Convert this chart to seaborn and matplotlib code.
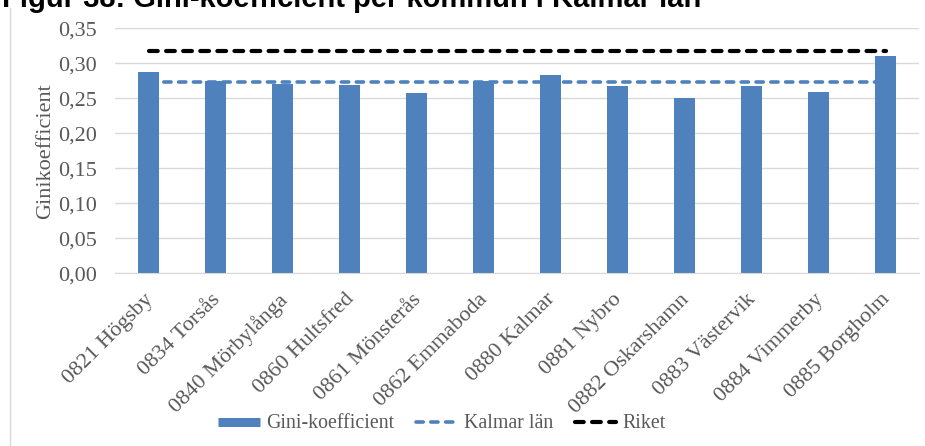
import numpy as np
import matplotlib
matplotlib.use("Agg")
import matplotlib.pyplot as plt
import matplotlib.transforms as mtransforms
import seaborn as sns
from matplotlib.lines import Line2D

# Data
kommuner = ["0821 Högsby", "0834 Torsås", "0840 Mörbylånga", "0860 Hultsfred",
            "0861 Mönsterås", "0862 Emmaboda", "0880 Kalmar", "0881 Nybro",
            "0882 Oskarshamn", "0883 Västervik", "0884 Vimmerby", "0885 Borgholm"]
gini = [0.288, 0.275, 0.270, 0.269, 0.258, 0.275, 0.283, 0.268, 0.250, 0.267, 0.259, 0.310]
kalmar_lan = 0.274
riket = 0.317
y_ticks = [0.00, 0.05, 0.10, 0.15, 0.20, 0.25, 0.30, 0.35]
y_ticklabels = ["0,00", "0,05", "0,10", "0,15", "0,20", "0,25", "0,30", "0,35"]

sns.set_style("white")
plt.rcParams["font.family"] = ["Liberation Serif", "DejaVu Serif"]

blue = "#4F81BD"
grey_txt = "#595959"
grid_col = "#D9D9D9"

fig = plt.figure(figsize=(9.25, 4.46), dpi=100)
ax = fig.add_axes([115 / 925, 1 - 273.3 / 446, 804 / 925, 245 / 446])

sns.barplot(x=kommuner, y=gini, color=blue, width=0.3, saturation=1,
            edgecolor="none", ax=ax)

pos = np.arange(len(kommuner))
ax.plot(pos, np.full(len(kommuner), kalmar_lan), color=blue, lw=2.6,
        dashes=(2.0, 2.1), dash_capstyle="round")
ax.plot(pos, np.full(len(kommuner), riket), color="black", lw=3,
        dashes=(2.1, 2.0), dash_capstyle="round")

ax.set_ylim(0, 0.35)
ax.set_xlim(-0.5, len(kommuner) - 0.5)
ax.set_yticks(y_ticks)
ax.set_yticklabels(y_ticklabels)
ax.yaxis.grid(True, color=grid_col, lw=1)
ax.set_axisbelow(True)
for s in ["top", "right", "left"]:
    ax.spines[s].set_visible(False)
ax.spines["bottom"].set_color(grid_col)
ax.tick_params(axis="y", length=0, pad=13, labelsize=16, labelcolor=grey_txt)
ax.tick_params(axis="x", length=0, pad=12, labelsize=16, labelcolor=grey_txt)
shift = mtransforms.ScaledTranslation(-5 / 100, 0, fig.dpi_scale_trans)
for lbl in ax.get_xticklabels():
    lbl.set_rotation(45)
    lbl.set_ha("right")
    lbl.set_rotation_mode("anchor")
    lbl.set_transform(lbl.get_transform() + shift)
ax.set_ylabel("Ginikoefficient", fontsize=16, color=grey_txt, labelpad=2)

# legend at the bottom
handles = [
    Line2D([], [], color=blue, lw=6.5, solid_capstyle="butt"),
    Line2D([], [], color=blue, lw=2.6, dashes=(2.0, 2.1), dash_capstyle="round"),
    Line2D([], [], color="black", lw=3, dashes=(2.1, 2.0), dash_capstyle="round"),
]
leg = fig.legend(handles, ["Gini-koefficient", "Kalmar län", "Riket"], ncol=3,
                 loc="center", bbox_to_anchor=(442 / 925, 1 - 424 / 446),
                 frameon=False, fontsize=14.3, handlelength=2.1,
                 handletextpad=0.3, columnspacing=1.1)
for t in leg.get_texts():
    t.set_color(grey_txt)

# title, clipped at the top like in the reference
fig.text(2 / 925, 1 - 7 / 446, "Figur 38: Gini-koefficient per kommun i Kalmar län",
         fontsize=21, fontweight="bold", family="Liberation Sans", va="baseline",
         ha="left", color="black")

# left border of the chart area
fig.add_artist(Line2D([10 / 925, 10 / 925], [0, 1 - 8 / 446], color=grid_col, lw=1))

fig.savefig("out.png", dpi=100)
